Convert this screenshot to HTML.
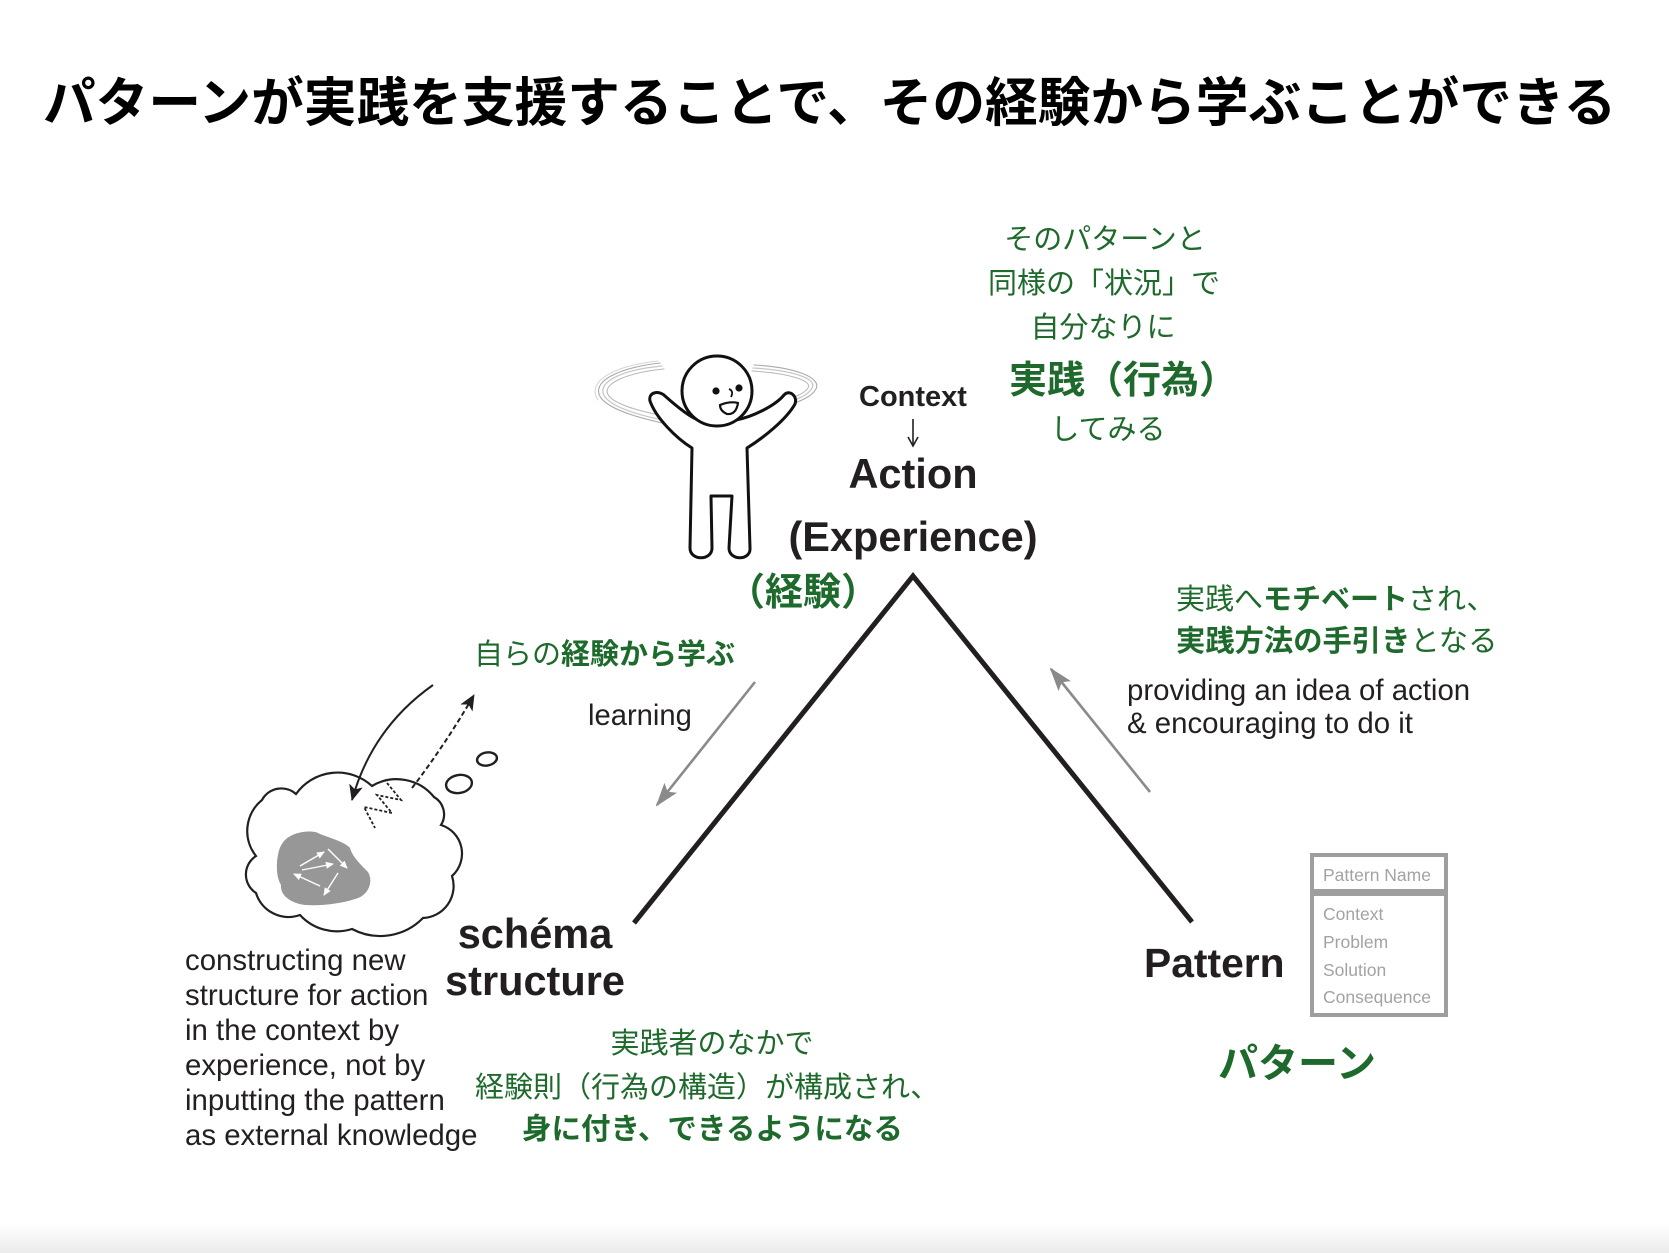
<!DOCTYPE html>
<html>
<head>
<meta charset="utf-8">
<style>
  html, body { margin: 0; padding: 0; background: #ffffff; }
  body { width: 1669px; height: 1253px; overflow: hidden; }
  svg { display: block; }
  .jp { font-family: "Liberation Sans", "Noto Sans CJK JP", sans-serif; }
  .en { font-family: "Liberation Sans", Arial, sans-serif; }
  .g { fill: #1e6a2c; }
  .d { fill: #231f20; }
</style>
</head>
<body>
<svg width="1669" height="1253" viewBox="0 0 1669 1253" xmlns="http://www.w3.org/2000/svg">
  <defs>
    <linearGradient id="band" x1="0" y1="0" x2="0" y2="1">
      <stop offset="0" stop-color="#ffffff"/>
      <stop offset="1" stop-color="#ebebeb"/>
    </linearGradient>
    <marker id="ga" markerWidth="24" markerHeight="16" refX="22" refY="8" orient="auto" markerUnits="userSpaceOnUse">
      <path d="M0,0 L24,8 L0,16 L5,8 z" fill="#8a8a8a"/>
    </marker>
    <marker id="ba" markerWidth="16" markerHeight="14" refX="15" refY="7" orient="auto" markerUnits="userSpaceOnUse">
      <path d="M0,0 L16,7 L0,14 L4,7 z" fill="#231f20"/>
    </marker>
    <marker id="wa" markerWidth="8" markerHeight="7" refX="7" refY="3.5" orient="auto" markerUnits="userSpaceOnUse">
      <path d="M0,0 L8,3.5 L0,7 z" fill="#ffffff"/>
    </marker>
  </defs>

  <rect x="0" y="0" width="1669" height="1253" fill="#ffffff"/>
  <rect x="0" y="1224" width="1669" height="29" fill="url(#band)"/>

  <!-- Title -->
  <text class="jp" x="43" y="121" font-size="52.7" font-weight="700" fill="#000">パターンが実践を支援することで、その経験から学ぶことができる</text>

  <!-- Top right green text -->
  <g class="jp g" font-size="29" text-anchor="middle">
    <text x="1105" y="249">そのパターンと</text>
    <text x="1104" y="293">同様の「状況」で</text>
    <text x="1103" y="337">自分なりに</text>
    <text x="1108" y="439">してみる</text>
  </g>
  <text class="jp g" x="1009" y="393" font-size="38" font-weight="700">実践（行為）</text>

  <!-- Hula hoop -->
  <g fill="none" stroke-linecap="round">
    <path d="M662,366 C620,370 595,383 605,397 C615,410 650,418 678,423" stroke="#c8c8c8" stroke-width="1.3"/>
    <path d="M660,363 C617,368 590,382 601,398 C612,412 648,420 676,426" stroke="#a9a9a9" stroke-width="1.1"/>
    <path d="M664,369 C624,373 600,385 609,396 C618,407 652,414 680,419" stroke="#b8b8b8" stroke-width="1"/>
    <path d="M658,361 C612,366 586,382 598,400" stroke="#d4d4d4" stroke-width="1"/>
    <path d="M753,368 C790,370 818,378 812,388 C808,396 795,400 785,403" stroke="#c8c8c8" stroke-width="1.3"/>
    <path d="M754,365 C793,367 822,377 816,389 C811,398 797,402 787,406" stroke="#a9a9a9" stroke-width="1.1"/>
    <path d="M752,371 C786,373 813,380 808,388 C804,394 793,398 784,400" stroke="#b8b8b8" stroke-width="1"/>
  </g>

  <!-- Figure -->
  <g stroke="#111" stroke-width="3" fill="#ffffff" stroke-linejoin="round">
    <path d="M698,420 C688,416 674,404 665,396 C659,390 648,392 650,401 C656,418 676,438 692,448 L690,548 C690,561 712,561 712,548 L711,496 L732,496 L729,548 C729,561 751,561 750,548 L747,448 C763,438 786,420 795,404 C798,396 789,389 784,395 C775,406 752,417 736,420 Z"/>
    <ellipse cx="717" cy="391" rx="35" ry="35"/>
  </g>
  <circle cx="716" cy="391" r="3.6" fill="#111"/>
  <circle cx="739" cy="388" r="3.6" fill="#111"/>
  <path d="M729,389 Q734,391 731,397" fill="none" stroke="#111" stroke-width="1.8"/>
  <path d="M720,405 Q730,401 738,403 Q736,415 727,414 Q720,411 720,405 Z" fill="#fff" stroke="#111" stroke-width="2.2" stroke-linejoin="round"/>

  <!-- Context -> Action -->
  <text class="en d" x="913" y="406" font-size="29" font-weight="700" text-anchor="middle">Context</text>
  <line x1="913" y1="419" x2="913" y2="445" stroke="#231f20" stroke-width="1.6"/>
  <path d="M908,437 L913,446 L918,437" fill="none" stroke="#231f20" stroke-width="1.6"/>
  <text class="en d" x="913" y="488" font-size="41.5" font-weight="700" text-anchor="middle">Action</text>
  <text class="en d" x="913" y="551" font-size="41.5" font-weight="700" text-anchor="middle">(Experience)</text>
  <text class="jp g" x="803" y="605" font-size="38" font-weight="700" text-anchor="middle">（経験）</text>

  <!-- Triangle -->
  <polyline points="634,923 913,576 1192,922" fill="none" stroke="#231f20" stroke-width="5" stroke-linejoin="miter" stroke-miterlimit="10"/>

  <!-- Right side texts -->
  <text class="jp g" x="1176" y="609" font-size="29">実践へ<tspan font-weight="700">モチベート</tspan>され、</text>
  <text class="jp g" x="1176" y="651" font-size="29.3"><tspan font-weight="700">実践方法の手引き</tspan>となる</text>
  <text class="en d" x="1127" y="700" font-size="29.4">providing an idea of action</text>
  <text class="en d" x="1127" y="733" font-size="29.4">&amp; encouraging to do it</text>
  <line x1="1150" y1="792" x2="1051" y2="669" stroke="#8a8a8a" stroke-width="2.6" marker-end="url(#ga)"/>

  <!-- Left side texts -->
  <text class="jp g" x="474" y="664" font-size="29">自らの<tspan font-weight="700">経験から学ぶ</tspan></text>
  <text class="en d" x="588" y="725" font-size="29.2">learning</text>
  <line x1="755" y1="682" x2="657" y2="805" stroke="#8a8a8a" stroke-width="2.6" marker-end="url(#ga)"/>

  <!-- Cloud -->
  <path d="M256,856 A40,40 0 0 1 262,800 A22,22 0 0 1 296,794 A51,51 0 0 1 372,786 A48,48 0 0 1 434,797 A20,20 0 0 1 441,825 A30,30 0 0 1 452,876 A32,32 0 0 1 423,918 A60,60 0 0 1 352,929 A50,50 0 0 1 300,915 A34,34 0 0 1 256,893 A22,22 0 0 1 256,856 Z" fill="#ffffff" stroke="#231f20" stroke-width="2.2"/>
  <path d="M285,840 C295,830 315,830 320,834 C330,838 345,842 350,848 C352,856 360,864 368,872 C374,882 368,896 355,899 C340,904 320,906 305,905 C290,903 280,895 281,885 C275,875 277,860 278,855 C279,848 282,843 285,840 Z" fill="#979797"/>
  <g stroke="#ffffff" stroke-width="1.4" fill="none">
    <line x1="300" y1="866" x2="324" y2="852" marker-end="url(#wa)"/>
    <line x1="328" y1="849" x2="347" y2="868" marker-end="url(#wa)"/>
    <line x1="302" y1="870" x2="333" y2="864" marker-end="url(#wa)"/>
    <line x1="338" y1="873" x2="324" y2="895" marker-end="url(#wa)"/>
    <line x1="320" y1="886" x2="294" y2="874" marker-end="url(#wa)"/>
  </g>

  <!-- Thought bubbles -->
  <ellipse cx="459" cy="784" rx="13" ry="9" fill="none" stroke="#231f20" stroke-width="2.4" transform="rotate(-10 459 784)"/>
  <ellipse cx="487" cy="759" rx="10" ry="6.5" fill="none" stroke="#231f20" stroke-width="2.4" transform="rotate(-10 487 759)"/>

  <!-- Arrows from/to cloud -->
  <path d="M433,685 Q372,728 352,800" fill="none" stroke="#231f20" stroke-width="2" marker-end="url(#ba)"/>
  <path d="M412,788 Q445,745 474,695" fill="none" stroke="#231f20" stroke-width="2" stroke-dasharray="5,3" marker-end="url(#ba)"/>
  <path d="M387,783 L401,800 L377,795 L392,813 L364,807 L375,828" fill="none" stroke="#231f20" stroke-width="1.8" stroke-dasharray="3,2"/>

  <!-- schema structure -->
  <text class="en d" x="535" y="948" font-size="41.5" font-weight="700" text-anchor="middle">schéma</text>
  <text class="en d" x="535" y="995" font-size="41.5" font-weight="700" text-anchor="middle">structure</text>

  <!-- Left paragraph -->
  <g class="en d" font-size="29.4">
    <text x="185" y="970">constructing new</text>
    <text x="185" y="1005">structure for action</text>
    <text x="185" y="1040">in the context by</text>
    <text x="185" y="1075">experience, not by</text>
    <text x="185" y="1110">inputting the pattern</text>
    <text x="185" y="1145">as external knowledge</text>
  </g>

  <!-- Bottom green text -->
  <text class="jp g" x="712" y="1053" font-size="29" text-anchor="middle">実践者のなかで</text>
  <text class="jp g" x="475" y="1097" font-size="29">経験則（行為の構造）が構成され、</text>
  <text class="jp g" x="522" y="1139" font-size="29.5" font-weight="700">身に付き、できるようになる</text>

  <!-- Pattern -->
  <text class="en d" x="1144" y="977" font-size="40.8" font-weight="700">Pattern</text>
  <g fill="#ffffff" stroke="#9e9e9e" stroke-width="4">
    <rect x="1312" y="855" width="134" height="36"/>
    <rect x="1312" y="894" width="134" height="121"/>
  </g>
  <g class="en" fill="#a3a3a3" font-size="17.5">
    <text x="1323" y="881">Pattern Name</text>
    <text x="1323" y="920">Context</text>
    <text x="1323" y="948">Problem</text>
    <text x="1323" y="976">Solution</text>
    <text x="1323" y="1003">Consequence</text>
  </g>
  <text class="jp g" x="1297" y="1077" font-size="40" font-weight="700" text-anchor="middle">パターン</text>
</svg>
</body>
</html>
